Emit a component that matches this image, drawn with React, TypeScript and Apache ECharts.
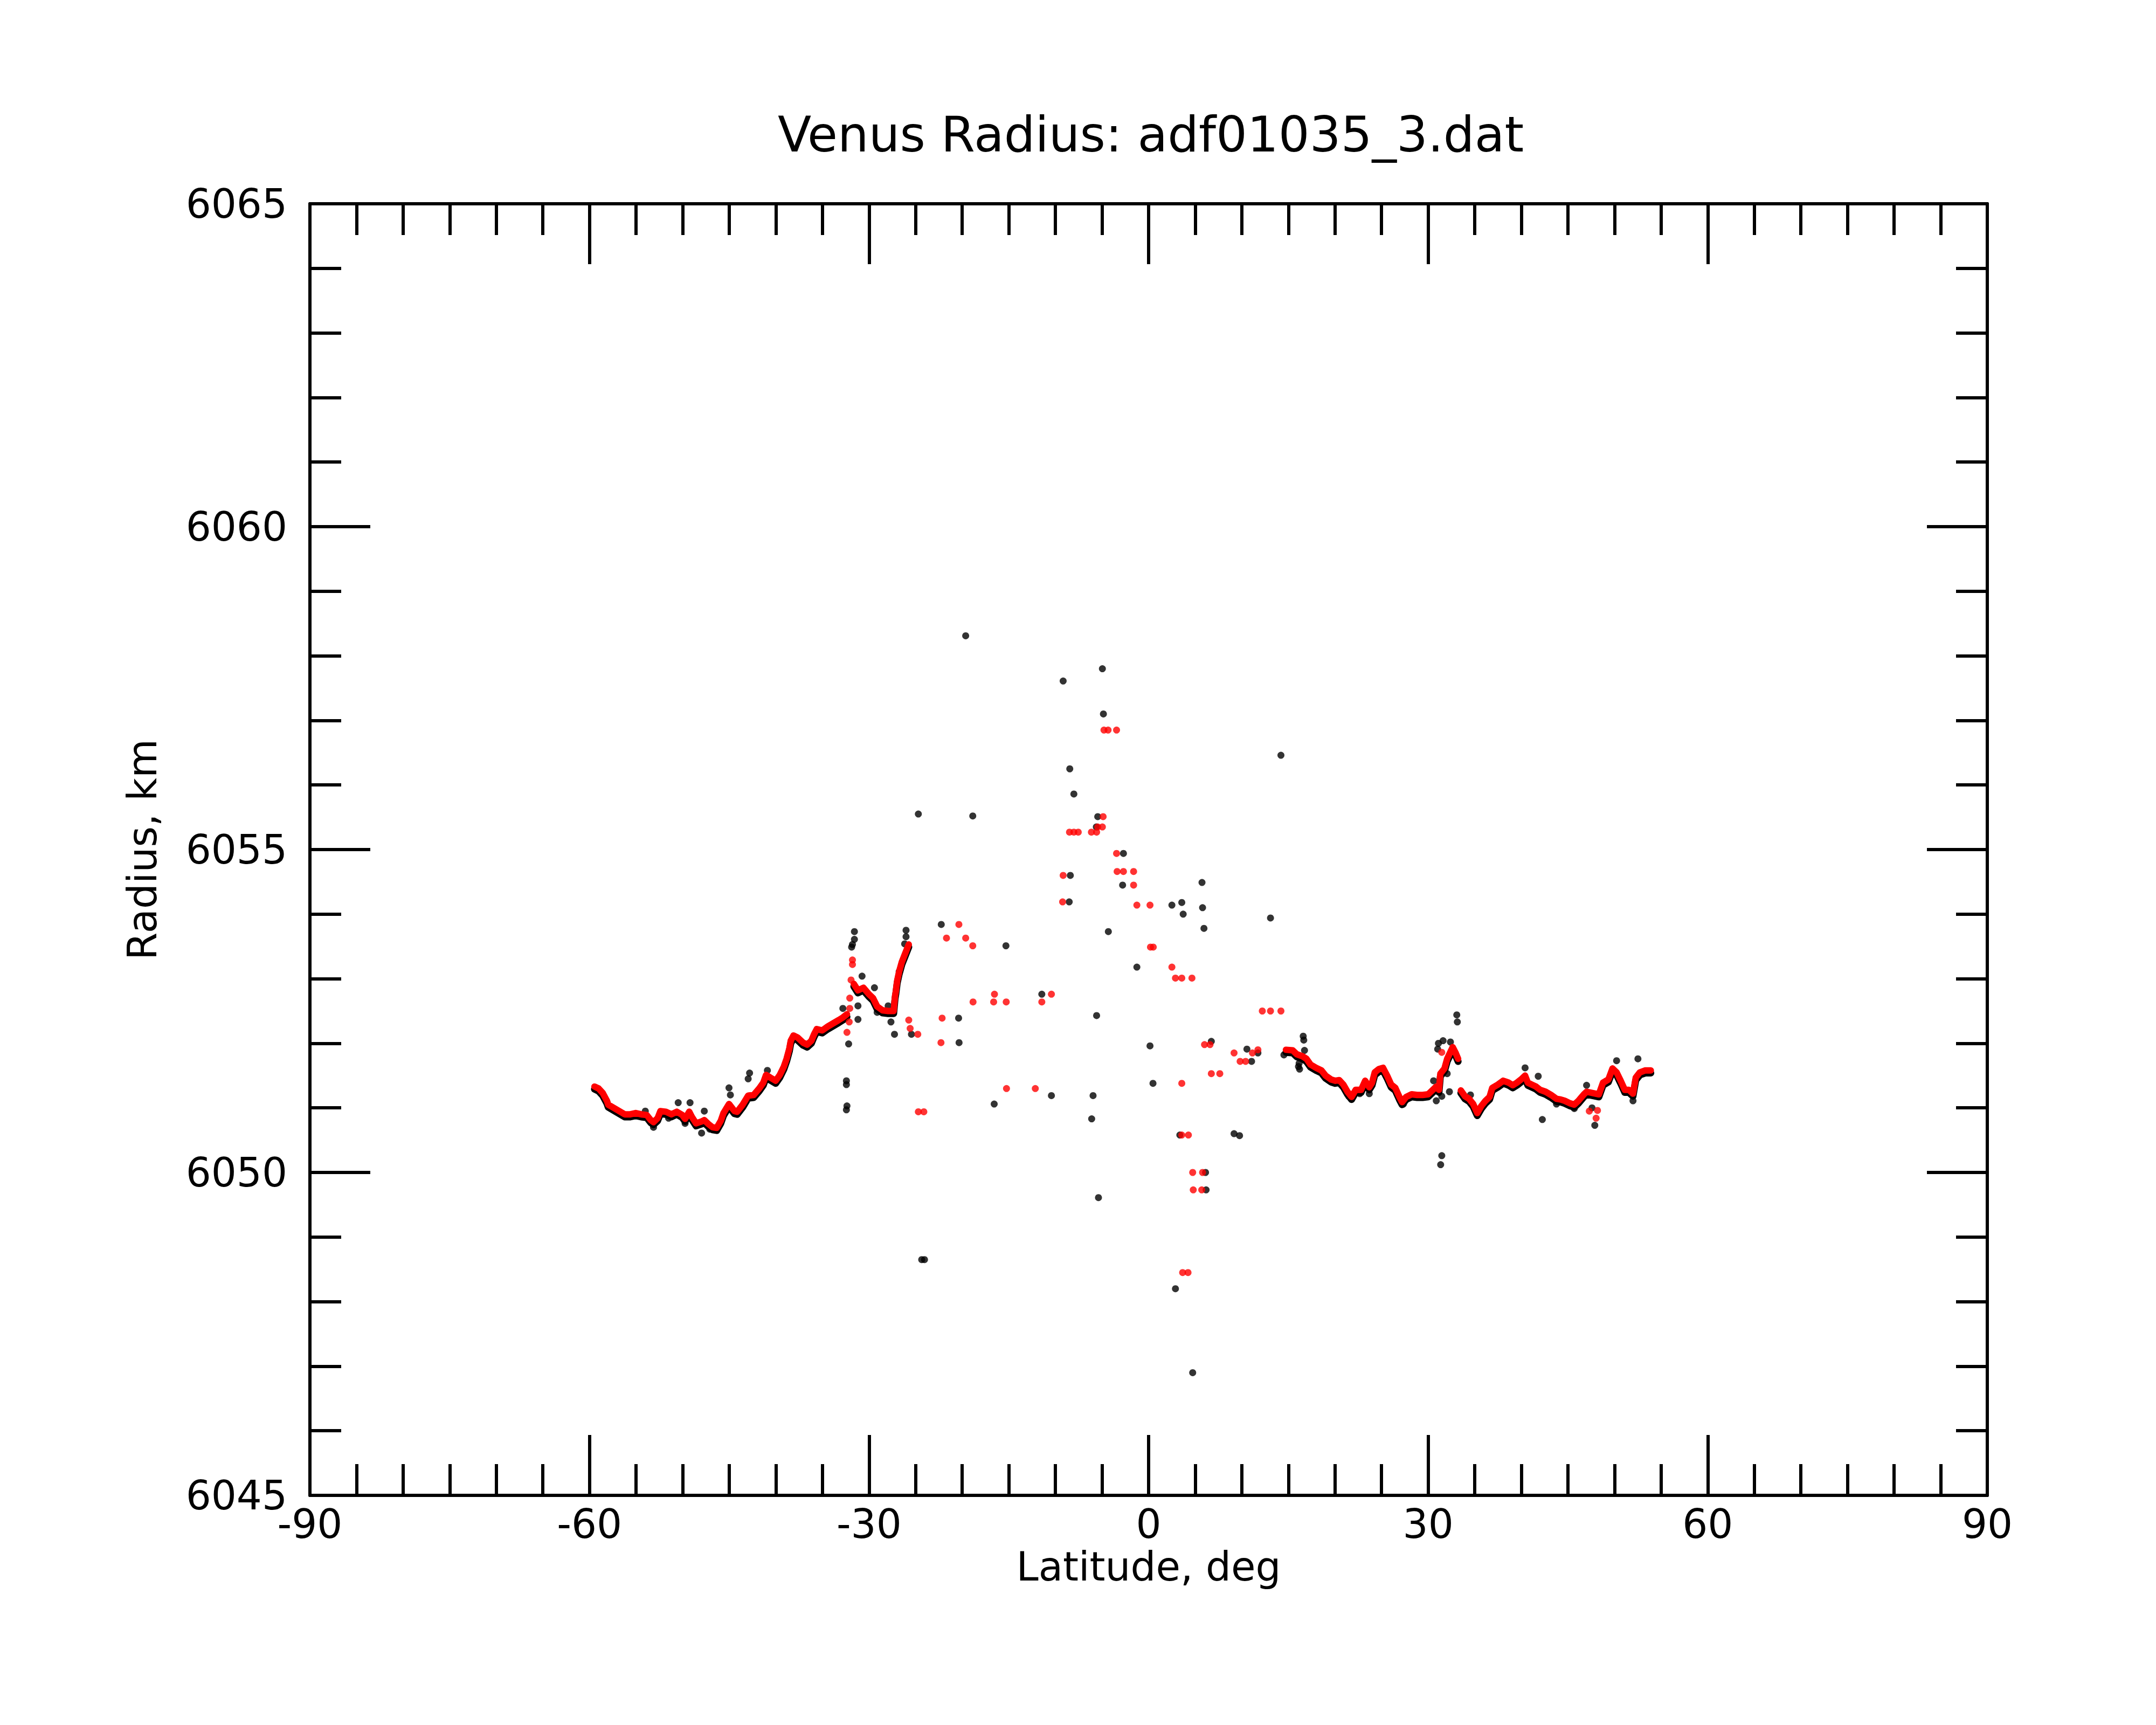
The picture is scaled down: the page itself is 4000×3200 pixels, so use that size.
import React, { useEffect, useRef } from "react";
import * as echarts from "echarts";

// Smoothed (red) profile, southern part
const redSouthA: number[][] = [
  [-59.46, 6051.33], [-59.02, 6051.30], [-58.58, 6051.23], [-58.13, 6051.11], [-57.99, 6051.05],
  [-57.40, 6051.00], [-56.81, 6050.95], [-56.22, 6050.90], [-55.63, 6050.90], [-55.04, 6050.92],
  [-54.45, 6050.90], [-53.86, 6050.89], [-53.42, 6050.81], [-53.13, 6050.78], [-52.69, 6050.84],
  [-52.39, 6050.95], [-51.80, 6050.94], [-51.21, 6050.90], [-50.63, 6050.94], [-50.04, 6050.89],
  [-49.74, 6050.83], [-49.30, 6050.94], [-49.01, 6050.86], [-48.56, 6050.76], [-47.97, 6050.79],
  [-47.68, 6050.81], [-47.24, 6050.75], [-46.80, 6050.70], [-46.35, 6050.69], [-45.91, 6050.80],
  [-45.62, 6050.92], [-45.03, 6051.06], [-44.44, 6050.95], [-44.15, 6050.94], [-43.56, 6051.05],
  [-42.97, 6051.19], [-42.38, 6051.20], [-41.79, 6051.30], [-41.35, 6051.39], [-41.05, 6051.51],
  [-40.61, 6051.47], [-40.02, 6051.42], [-39.58, 6051.51], [-39.14, 6051.64], [-38.85, 6051.76],
  [-38.55, 6051.92], [-38.40, 6052.04], [-38.11, 6052.12], [-37.67, 6052.09], [-37.08, 6052.01],
  [-36.64, 6051.98], [-36.19, 6052.04], [-35.90, 6052.14], [-35.61, 6052.22], [-35.02, 6052.20],
  [-34.43, 6052.26], [-33.84, 6052.31], [-33.25, 6052.36], [-32.81, 6052.40], [-32.37, 6052.45],
];

const redSouthB: number[][] = [
  [-31.63, 6052.92], [-31.19, 6052.82], [-30.60, 6052.86], [-30.01, 6052.76], [-29.57, 6052.70],
  [-29.13, 6052.57], [-28.54, 6052.51], [-27.95, 6052.50], [-27.36, 6052.50], [-27.21, 6052.73],
  [-27.12, 6052.81], [-26.98, 6052.97], [-26.77, 6053.11], [-26.48, 6053.26], [-26.18, 6053.37],
  [-25.74, 6053.53],
];

// Smoothed (red) profile, northern part
const redNorthA: number[][] = [
  [14.74, 6051.90], [15.47, 6051.89], [15.91, 6051.83], [16.50, 6051.80], [16.94, 6051.76],
  [17.38, 6051.67], [17.97, 6051.62], [18.55, 6051.58], [18.99, 6051.50], [19.58, 6051.44],
  [20.02, 6051.42], [20.46, 6051.43], [20.90, 6051.36], [21.34, 6051.25], [21.78, 6051.17],
  [22.22, 6051.28], [22.80, 6051.28], [23.24, 6051.42], [23.68, 6051.32], [23.98, 6051.39],
  [24.27, 6051.55], [24.71, 6051.60], [25.15, 6051.62], [25.59, 6051.50], [26.03, 6051.36],
  [26.47, 6051.31], [26.91, 6051.17], [27.20, 6051.09], [27.64, 6051.17], [28.23, 6051.21],
  [28.82, 6051.20], [29.40, 6051.20], [29.99, 6051.21], [30.43, 6051.27], [30.87, 6051.33],
  [31.16, 6051.28], [31.31, 6051.53], [31.75, 6051.61], [32.04, 6051.76], [32.63, 6051.94],
  [32.92, 6051.86], [33.21, 6051.76],
];

const redNorthB: number[][] = [
  [33.51, 6051.27], [33.95, 6051.18], [34.39, 6051.14], [34.83, 6051.06], [35.27, 6050.92],
  [35.71, 6051.03], [36.15, 6051.11], [36.59, 6051.17], [36.88, 6051.31], [37.47, 6051.36],
  [38.05, 6051.42], [38.64, 6051.39], [39.08, 6051.35], [39.52, 6051.39], [39.96, 6051.44],
  [40.40, 6051.50], [40.69, 6051.39], [41.13, 6051.36], [41.57, 6051.33], [42.01, 6051.28],
  [42.60, 6051.25], [43.19, 6051.20], [43.77, 6051.14], [44.21, 6051.13], [44.65, 6051.11],
  [45.24, 6051.07], [45.68, 6051.05], [46.12, 6051.11], [46.71, 6051.21], [47.00, 6051.25],
  [48.32, 6051.21], [48.76, 6051.39], [49.34, 6051.44], [49.78, 6051.61], [50.22, 6051.55],
  [50.66, 6051.42], [51.10, 6051.28], [51.54, 6051.28], [51.98, 6051.22], [52.28, 6051.47],
  [52.72, 6051.55], [53.30, 6051.58], [53.89, 6051.58],
];

// Isolated red (smoothed) points
const redPoints: number[][] = [
  [-32.37, 6052.17], [-32.13, 6052.33], [-32.07, 6052.54], [-32.07, 6052.70], [-31.93, 6052.98],
  [-31.78, 6053.22], [-31.78, 6053.29],
  [-25.74, 6052.36], [-25.59, 6052.23], [-24.77, 6052.14],
  [-24.71, 6050.94], [-24.12, 6050.94],
  [-22.16, 6052.39], [-22.28, 6052.01],
  [-20.36, 6053.84], [-21.69, 6053.63], [-19.63, 6053.63], [-18.87, 6053.51],
  [-16.54, 6052.76], [-10.43, 6052.76], [-18.84, 6052.64], [-16.63, 6052.64], [-15.28, 6052.64], [-11.46, 6052.64],
  [-15.25, 6051.30], [-12.16, 6051.30],
  [-9.17, 6054.60], [-9.23, 6054.19],
  [-8.49, 6055.27], [-8.02, 6055.27], [-7.55, 6055.27], [-6.14, 6055.27], [-5.58, 6055.27],
  [-5.46, 6055.35], [-4.96, 6055.35], [-4.88, 6055.51],
  [-4.79, 6056.85], [-4.35, 6056.85], [-3.44, 6056.85],
  [-3.44, 6054.94], [-3.38, 6054.66], [-2.70, 6054.66], [-1.61, 6054.66], [-1.61, 6054.45],
  [-1.26, 6054.14], [0.15, 6054.14], [0.2, 6053.49], [0.5, 6053.49],
  [2.50, 6053.18], [2.88, 6053.01], [3.56, 6053.01], [4.65, 6053.01],
  [3.56, 6051.38],
  [3.56, 6050.58], [4.27, 6050.58],
  [4.73, 6050.00], [5.79, 6050.00], [4.79, 6049.73], [5.70, 6049.73],
  [3.65, 6048.45], [4.23, 6048.45],
  [6.00, 6051.98], [6.59, 6051.98], [6.73, 6051.53], [7.64, 6051.53],
  [9.17, 6051.85], [9.82, 6051.72], [10.41, 6051.72], [11.14, 6051.85], [11.73, 6051.90],
  [12.20, 6052.50], [13.08, 6052.50], [14.20, 6052.50],
  [31.46, 6051.86],
  [47.29, 6050.95], [48.17, 6050.96], [48.02, 6050.84],
];

// Raw (black) measurements that stand out from the smoothed profile
const blackPoints: number[][] = [
  [-53.13, 6050.70], [-54.01, 6050.95], [-51.51, 6050.84], [-50.48, 6051.08], [-49.74, 6050.76],
  [-49.21, 6051.08], [-47.97, 6050.61], [-47.68, 6050.95], [-47.09, 6050.67], [-46.50, 6050.67],
  [-45.03, 6051.31], [-44.88, 6051.20], [-42.97, 6051.45], [-42.82, 6051.54], [-40.91, 6051.58],
  [-32.81, 6052.54], [-32.43, 6051.42], [-32.43, 6051.36], [-32.37, 6051.03], [-32.43, 6050.97],
  [-32.19, 6051.99], [-31.87, 6053.49], [-31.78, 6053.53], [-31.57, 6053.61], [-31.57, 6053.73],
  [-31.19, 6052.58], [-31.19, 6052.37], [-30.75, 6053.04], [-29.42, 6052.86], [-29.13, 6052.48],
  [-27.95, 6052.58], [-27.65, 6052.33], [-27.27, 6052.14], [-26.77, 6053.11], [-26.18, 6053.54],
  [-26.03, 6053.65], [-26.03, 6053.75], [-25.45, 6052.14],
  [-19.63, 6058.31], [-4.96, 6057.80], [-9.17, 6057.61], [-4.85, 6057.10], [-8.46, 6056.25],
  [-8.02, 6055.86], [14.20, 6056.46], [-24.71, 6055.55], [-18.87, 6055.52], [-5.46, 6055.51],
  [-5.61, 6055.35], [-2.70, 6054.94], [-8.40, 6054.60], [-2.79, 6054.45], [-8.52, 6054.19],
  [5.73, 6054.49], [2.50, 6054.14], [3.56, 6054.18], [3.71, 6054.00], [5.79, 6054.10],
  [5.94, 6053.78], [13.08, 6053.94], [-22.25, 6053.84], [-15.31, 6053.51], [-4.32, 6053.73],
  [-1.26, 6053.18], [-11.46, 6052.76], [-20.39, 6052.39], [-5.58, 6052.43], [-20.34, 6052.01],
  [0.15, 6051.96], [6.73, 6052.03], [10.55, 6051.91], [11.05, 6051.72], [11.73, 6051.85],
  [0.47, 6051.38], [-16.57, 6051.06], [-10.43, 6051.19], [-5.96, 6051.19], [-6.11, 6050.83],
  [9.17, 6050.60], [9.76, 6050.57], [3.35, 6050.58], [6.11, 6050.00], [6.17, 6049.73],
  [-5.38, 6049.61], [2.88, 6048.20], [-24.35, 6048.65], [-24.05, 6048.65], [4.73, 6046.90],
  [14.52, 6051.82], [16.08, 6051.64],
  [16.59, 6052.11], [16.65, 6052.05], [16.73, 6051.89], [16.15, 6051.69], [16.20, 6051.60],
  [21.48, 6051.18], [22.66, 6051.22], [23.68, 6051.22], [27.35, 6051.06], [30.58, 6051.42],
  [30.87, 6051.11], [31.46, 6051.18], [31.10, 6052.00], [31.60, 6052.04], [32.39, 6052.02],
  [31.02, 6051.91], [32.04, 6051.53], [32.28, 6051.25], [33.07, 6052.44], [33.13, 6052.33],
  [31.46, 6050.26], [31.34, 6050.12], [34.54, 6051.20], [40.40, 6051.62], [41.81, 6051.49],
  [42.25, 6050.82], [43.77, 6051.06], [45.68, 6050.99], [47.00, 6051.35], [47.58, 6051.00],
  [47.88, 6050.73], [50.22, 6051.73], [51.98, 6051.11], [52.51, 6051.76],
];

const titleText = "Venus Radius: adf01035_3.dat";
const xName = "Latitude, deg";
const yName = "Radius, km";

const FONT = "DejaVu Sans";
const BLACK = "#000000";
const RED = "#ff0000";

function axisBase(extra: any) {
  return {
    type: "value",
    axisLine: { show: true, onZero: false, lineStyle: { color: BLACK, width: 6 } },
    axisTick: { show: true, inside: true, length: 112, lineStyle: { color: BLACK, width: 6 } },
    splitLine: { show: false },
    minorSplitLine: { show: false },
    ...extra,
  };
}

const plain = (v: number) => String(v);

export default function App() {
  const ref = useRef<HTMLDivElement>(null);
  useEffect(() => {
    if (!ref.current) return;
    const chart = echarts.init(ref.current, null, { renderer: "svg" });
    const xLabel = { show: true, fontSize: 74, fontFamily: FONT, color: BLACK, margin: 16, formatter: plain };
    const yLabel = { show: true, fontSize: 74, fontFamily: FONT, color: BLACK, margin: 42, formatter: plain };
    const xMinor = { show: true, splitNumber: 6, length: 58, lineStyle: { color: BLACK, width: 6 } };
    const yMinor = { show: true, splitNumber: 5, length: 58, lineStyle: { color: BLACK, width: 6 } };
    const redLine = (data: number[][]) => ({
      type: "line",
      data,
      symbol: "none",
      showSymbol: false,
      silent: true,
      z: 5,
      lineStyle: { color: RED, width: 12, cap: "round", join: "round" },
    });
    // raw samples hugging the smoothed profile, drawn as a dark band just beneath it
    const blackLine = (data: number[][]) => ({
      type: "line",
      data,
      yAxisIndex: 2,
      symbol: "none",
      showSymbol: false,
      silent: true,
      z: 2,
      lineStyle: { color: BLACK, width: 13, cap: "round", join: "round" },
    });
    chart.setOption({
      animation: false,
      backgroundColor: "#ffffff",
      textStyle: { fontFamily: FONT },
      grid: { left: 575, top: 378, width: 3112, height: 2396, containLabel: false },
      graphic: [
        {
          type: "text",
          x: 2135,
          y: 249,
          style: {
            text: titleText,
            fontSize: 91,
            fontFamily: FONT,
            fill: BLACK,
            align: "center",
            verticalAlign: "middle",
          },
        },
      ],
      xAxis: [
        axisBase({
          min: -90,
          max: 90,
          interval: 30,
          position: "bottom",
          axisLabel: xLabel,
          minorTick: xMinor,
          name: xName,
          nameLocation: "middle",
          nameGap: 95,
          nameTextStyle: { fontSize: 74, fontFamily: FONT, color: BLACK },
        }),
        axisBase({
          min: -90,
          max: 90,
          interval: 30,
          position: "top",
          axisLabel: { show: false },
          minorTick: xMinor,
        }),
      ],
      yAxis: [
        axisBase({
          min: 6045,
          max: 6065,
          interval: 5,
          position: "left",
          axisLabel: yLabel,
          minorTick: yMinor,
          name: yName,
          nameLocation: "middle",
          nameGap: 274,
          nameRotate: 90,
          nameTextStyle: { fontSize: 74, fontFamily: FONT, color: BLACK },
        }),
        axisBase({
          min: 6045,
          max: 6065,
          interval: 5,
          position: "right",
          axisLabel: { show: false },
          minorTick: yMinor,
        }),
        {
          type: "value",
          show: false,
          min: 6045.04,
          max: 6065.04,
        },
      ],
      series: [
        blackLine(redSouthA),
        blackLine(redSouthB),
        blackLine(redNorthA),
        blackLine(redNorthB),
        {
          type: "scatter",
          data: blackPoints,
          symbol: "circle",
          symbolSize: 13,
          silent: true,
          z: 3,
          itemStyle: { color: BLACK },
        },
        redLine(redSouthA),
        redLine(redSouthB),
        redLine(redNorthA),
        redLine(redNorthB),
        {
          type: "scatter",
          data: redPoints,
          symbol: "circle",
          symbolSize: 13,
          silent: true,
          z: 6,
          itemStyle: { color: RED },
        },
      ],
    });
    return () => chart.dispose();
  }, []);
  return (
    <div
      ref={ref}
      style={{ position: "absolute", left: 0, top: 0, width: 4000, height: 3200, background: "#ffffff" }}
    />
  );
}
